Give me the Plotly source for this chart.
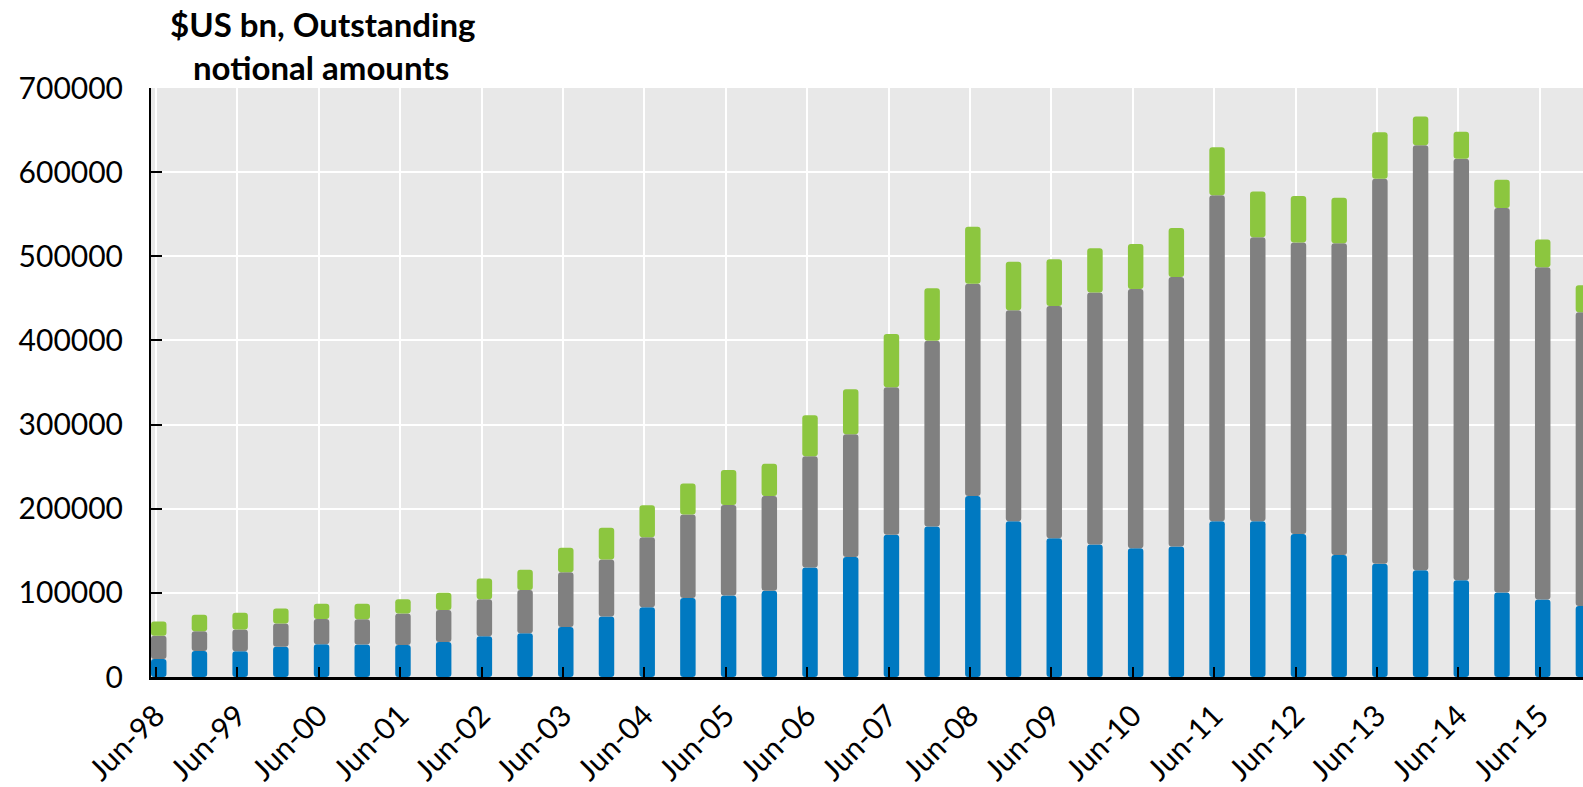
import plotly.graph_objects as go

# Half-yearly observation dates
periods = []
for yr in range(1998, 2016):
    yy = f"{yr % 100:02d}"
    periods += [f"Jun-{yy}", f"Dec-{yy}"]

year_labels = [p for p in periods if p.startswith("Jun")]

# Outstanding notional amounts by counterparty, $US bn
reporting_dealers = [21500, 31000, 30500, 36000, 39000, 38500, 38000, 41500, 48500, 52000,
                     59500, 72000, 83000, 94000, 97000, 102500, 130000, 142500, 169000, 179000,
                     215000, 185000, 165000, 157500, 153000, 155000, 185000, 185000, 170000, 145000,
                     134500, 127000, 115000, 100500, 92000, 84500]
other_financial = [27500, 23500, 26000, 27500, 30000, 30000, 37500, 38000, 44000, 51500,
                   65000, 67500, 83000, 99000, 107500, 112500, 132500, 146000, 175500, 220500,
                   252500, 251000, 276000, 299500, 308000, 320500, 387500, 337500, 346500, 370500,
                   457500, 505000, 501000, 457000, 395000, 349000]
non_financial = [17000, 19500, 20000, 18000, 18000, 18500, 17000, 20500, 24500, 24000,
                 29000, 38000, 38000, 37000, 41500, 38500, 48500, 53500, 63000, 62500,
                 67500, 57500, 55500, 52500, 53500, 58000, 57000, 54500, 55000, 54000,
                 55500, 34000, 32000, 33500, 33000, 32000]

series = [
    ("Reporting dealers", reporting_dealers, "#0079C1"),
    ("Other financial institutions", other_financial, "#808080"),
    ("Non-financial customers", non_financial, "#8CC63F"),
]

BAR_W = 0.38

fig = go.Figure()
base = [0] * len(periods)
for name, vals, color in series:
    # each segment sits on the running total so its own top gets rounded corners
    fig.add_trace(go.Bar(
        x=periods, y=vals, base=list(base), name=name,
        marker=dict(color=color, line=dict(width=0), cornerradius=3),
        width=BAR_W, offset=-BAR_W / 2 + 0.07,
    ))
    base = [b + v for b, v in zip(base, vals)]

FONT = "Lato, 'Open Sans', sans-serif"

fig.update_layout(
    width=1583, height=787,
    margin=dict(l=151, r=0, t=88, b=103),
    paper_bgcolor="white",
    plot_bgcolor="#E8E8E8",
    barmode="overlay",
    showlegend=False,
    font=dict(family=FONT, size=30, color="black"),
    xaxis=dict(
        type="category",
        categoryorder="array", categoryarray=periods,
        range=[-0.12, 35.06],
        tickmode="array", tickvals=year_labels, ticktext=year_labels,
        tickangle=-45,
        ticks="inside", ticklen=10, tickwidth=2, tickcolor="black",
        showline=True, linecolor="black", linewidth=3,
        showgrid=True, gridcolor="white", gridwidth=2,
        ticklabelstandoff=6,
        tickfont=dict(family=FONT, size=30, color="black"),
    ),
    yaxis=dict(
        range=[0, 700000], dtick=100000, tickformat="d",
        ticks="inside", ticklen=11, tickwidth=2, tickcolor="black",
        showline=True, linecolor="black", linewidth=2,
        showgrid=True, gridcolor="white", gridwidth=2,
        zeroline=False,
        ticklabelstandoff=20,
        tickfont=dict(family=FONT, size=30, color="black"),
    ),
    annotations=[
        dict(text="<b>$US bn, Outstanding</b>", xref="paper", yref="paper",
             x=0.1201, y=1.109, xanchor="center", yanchor="middle", showarrow=False,
             font=dict(family=FONT, size=33, color="black")),
        dict(text="<b>notional amounts</b>", xref="paper", yref="paper",
             x=0.1187, y=1.035, xanchor="center", yanchor="middle", showarrow=False,
             font=dict(family=FONT, size=33, color="black")),
    ],
)

fig.write_html("out.html")
